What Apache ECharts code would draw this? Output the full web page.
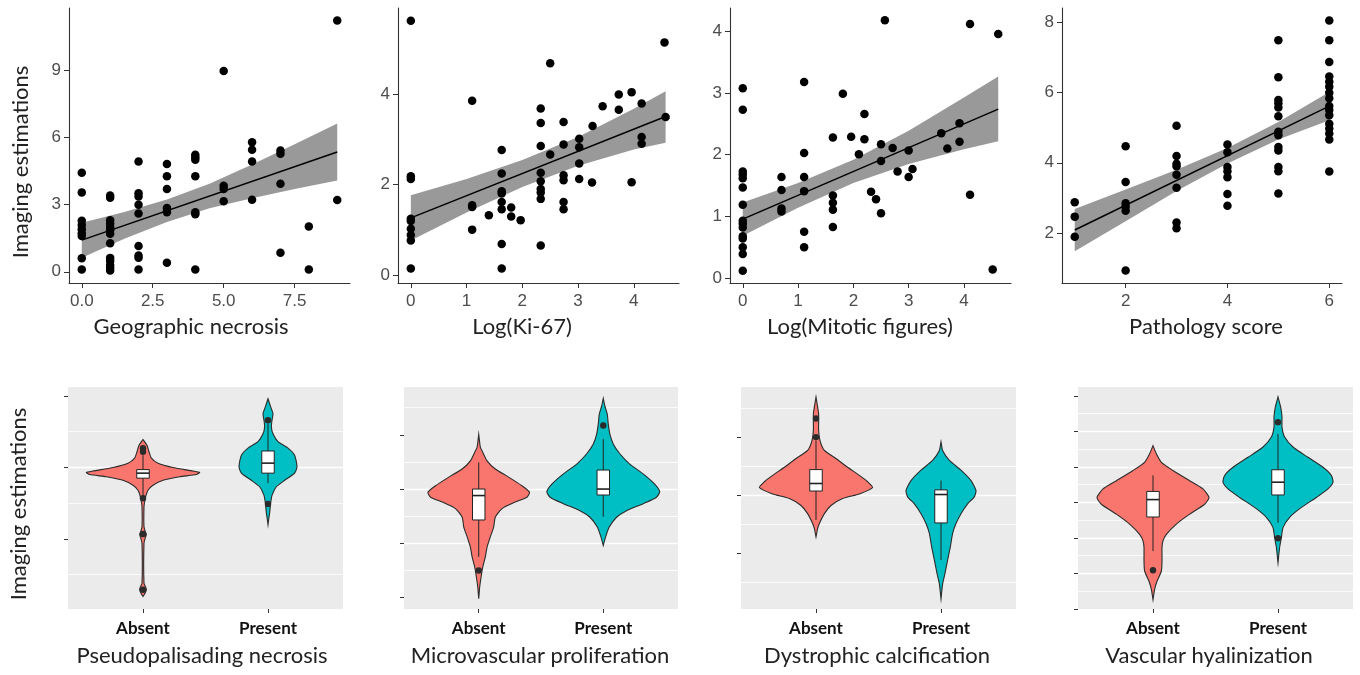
<!DOCTYPE html>
<html><head><meta charset="utf-8">
<script src="https://cdn.jsdelivr.net/npm/echarts@6/dist/echarts.min.js"></script>
<style>html,body{margin:0;padding:0;background:#fff}#c{width:1360px;height:675px}</style>
</head><body><div id="c"></div>
<script>
// ===================== DATA =====================
// Top row: scatter points [x, imaging estimation]
const necrosisPts = [[0,4.41],[0,3.54],[0,2.27],[0,2.09],[0,1.9],[0,1.72],[0,1.6],[0,0.6],[0,0.1],
 [1,3.4],[1,3.3],[1,2.3],[1,2.15],[1,2.0],[1,1.85],[1,1.7],[1,1.27],[1,0.62],[1,0.48],[1,0.3],[1,0.18],[1,0.06],
 [2,4.92],[2,3.5],[2,3.36],[2,2.99],[2,2.6],[2,1.15],[2,0.73],[2,0.63],[2,0.1],
 [3,4.81],[3,4.26],[3,3.69],[3,2.84],[3,2.65],[3,0.4],
 [4,5.22],[4,5.11],[4,5.0],[4,4.26],[4,2.65],[4,2.57],[4,0.1],
 [5,8.95],[5,3.84],[5,3.69],[5,3.14],
 [6,5.78],[6,5.44],[6,4.92],[6,3.21],
 [7,5.41],[7,5.26],[7,3.92],[7,0.85],
 [8,2.02],[8,0.1],
 [9,11.2],[9,3.2]];
const necrosisFitX = [0, 9], necrosisFitY = [1.41, 5.34];
const necrosisBandX = [0, 1.5, 3, 4.5, 6, 7.5, 9];
const necrosisBandHi = [2.19, 2.67, 3.22, 3.93, 4.78, 5.69, 6.61];
const necrosisBandLo = [0.63, 1.47, 2.22, 2.83, 3.28, 3.69, 4.07];
const necrosisXTicks = [0, 2.5, 5, 7.5], necrosisYTicks = [0, 3, 6, 9];

const ki67Pts = [[0,5.62],[0,2.18],[0,2.12],[0,1.24],[0,1.19],[0,1.02],[0,0.88],[0,0.76],[0,0.14],
 [1.1,3.85],[1.1,1.54],[1.1,1.5],[1.1,1.0],[1.4,1.32],
 [1.63,2.76],[1.63,2.24],[1.63,1.85],[1.63,1.8],[1.63,1.61],[1.63,1.45],[1.63,0.68],[1.63,0.14],
 [1.8,1.49],[1.8,1.29],[1.97,1.21],
 [2.33,3.68],[2.33,3.36],[2.33,2.85],[2.33,2.26],[2.33,2.07],[2.33,1.9],[2.33,1.82],[2.33,1.68],[2.33,0.65],
 [2.5,4.68],[2.5,2.66],
 [2.74,3.38],[2.74,2.88],[2.74,2.2],[2.74,2.09],[2.74,1.61],[2.74,1.45],
 [3.02,3.01],[3.02,2.82],[3.02,2.46],[3.02,2.12],
 [3.25,2.04],[3.26,3.29],[3.44,3.73],[3.73,3.99],[3.73,3.65],[3.96,4.04],[3.96,2.05],
 [4.14,3.79],[4.14,3.05],[4.14,2.9],[4.55,5.14],[4.57,3.49]];
const ki67FitX = [0, 4.57], ki67FitY = [1.26, 3.5];
const ki67BandX = [0, 1, 2, 3, 4, 4.57];
const ki67BandHi = [1.76, 2.12, 2.54, 3.05, 3.67, 4.06];
const ki67BandLo = [0.76, 1.38, 1.94, 2.41, 2.77, 2.92];
const ki67XTicks = [0, 1, 2, 3, 4], ki67YTicks = [0, 2, 4];

const mitoticPts = [[0,3.08],[0,2.73],[0,1.73],[0,1.68],[0,1.62],[0,1.47],[0,1.19],[0,0.93],[0,0.88],[0,0.82],[0,0.68],[0,0.64],[0,0.5],[0,0.39],[0,0.12],
 [0.7,1.64],[0.7,1.43],[0.7,1.13],[0.7,1.08],
 [1.11,3.18],[1.11,2.03],[1.11,1.64],[1.11,1.41],[1.11,0.75],[1.11,0.5],
 [1.63,2.28],[1.63,1.34],[1.63,1.22],[1.63,1.11],[1.63,0.83],
 [1.81,2.99],[1.96,2.29],[2.1,2.01],[2.2,2.66],[2.2,2.25],[2.32,1.4],[2.41,1.28],
 [2.5,2.17],[2.5,1.9],[2.5,1.05],[2.57,4.18],[2.71,2.11],[2.8,1.73],
 [3.0,2.07],[3.0,1.64],[3.07,1.77],[3.59,2.35],[3.7,2.1],[3.92,2.51],[3.92,2.21],
 [4.11,4.12],[4.11,1.35],[4.52,0.14],[4.62,3.96]];
const mitoticFitX = [0, 4.62], mitoticFitY = [0.955, 2.74];
const mitoticBandX = [0, 1, 2, 3, 4, 4.62];
const mitoticBandHi = [1.225, 1.54, 1.92, 2.39, 2.93, 3.27];
const mitoticBandLo = [0.685, 1.14, 1.54, 1.85, 2.09, 2.22];
const mitoticXTicks = [0, 1, 2, 3, 4], mitoticYTicks = [0, 1, 2, 3, 4];

const scorePts = [[1,2.88],[1,2.47],[1,1.9],
 [2,4.47],[2,3.45],[2,2.85],[2,2.75],[2,2.64],[2,0.94],
 [3,5.05],[3,4.19],[3,3.97],[3,3.9],[3,3.66],[3,3.29],[3,2.3],[3,2.14],
 [4,4.52],[4,4.3],[4,3.88],[4,3.76],[4,3.59],[4,3.11],[4,2.78],
 [5,7.48],[5,6.43],[5,5.78],[5,5.69],[5,5.57],[5,5.32],[5,4.88],[5,4.78],[5,4.45],[5,4.35],[5,3.88],[5,3.76],[5,3.13],
 [6,8.04],[6,7.48],[6,6.86],[6,6.45],[6,6.3],[6,6.16],[6,5.99],[6,5.83],[6,5.61],[6,5.5],[6,5.35],[6,5.11],[6,4.97],[6,4.83],[6,4.66],[6,3.75]];
const scoreFitX = [1, 6], scoreFitY = [2.09, 5.61];
const scoreBandX = [1, 2, 3, 4, 5, 6];
const scoreBandHi = [2.69, 3.24, 3.8, 4.42, 5.16, 6.01];
const scoreBandLo = [1.49, 2.34, 3.2, 3.98, 4.66, 5.21];
const scoreXTicks = [2, 4, 6], scoreYTicks = [2, 4, 6, 8];

// Bottom row: violins (y value, half width), box stats [whiskerLow, q1, median, q3, whiskerHigh], outliers
const violinCats = ['Absent', 'Present'];

const pseudoAbsentY = [2.39,2.31,2.22,2.13,2.06,2.0,1.95,1.93,1.9,1.87,1.82,1.75,1.68,1.59,1.52,1.45,1.17,1.1,1.065,1.02,0.94,0.38,0.33,0.29,0.24,0.195];
const pseudoAbsentW = [0,0.032,0.048,0.067,0.12,0.24,0.4,0.453,0.427,0.293,0.16,0.08,0.04,0.021,0.013,0.008,0.008,0.019,0.027,0.019,0.008,0.008,0.021,0.027,0.016,0];
const pseudoAbsentBox = [1.61, 1.85, 1.92, 1.97, 2.17];
const pseudoAbsentOut = [2.27, 2.22, 1.57, 1.07, 0.29];
const pseudoPresentY = [2.96,2.85,2.75,2.66,2.57,2.47,2.36,2.27,2.17,2.01,1.92,1.82,1.73,1.61,1.5,1.36,1.27,1.2];
const pseudoPresentW = [0,0.021,0.04,0.032,0.027,0.04,0.08,0.16,0.213,0.232,0.213,0.133,0.067,0.032,0.021,0.013,0.005,0];
const pseudoPresentBox = [1.78, 1.92, 2.06, 2.23, 2.61];
const pseudoPresentOut = [2.66, 1.49];
const pseudoYTicks = [1, 2, 3];

const microAbsentY = [4.01,3.77,3.68,3.52,3.37,3.22,3.06,2.94,2.85,2.76,2.64,2.48,2.3,2.12,1.93,1.75,1.56,1.38,1.2,0.98];
const microAbsentW = [0,0.013,0.032,0.067,0.133,0.24,0.347,0.408,0.387,0.293,0.187,0.133,0.12,0.093,0.067,0.053,0.032,0.019,0.008,0];
const microAbsentBox = [1.75, 2.43, 2.88, 3.0, 3.49];
const microAbsentOut = [1.5];
const microPresentY = [4.67,4.53,4.38,4.2,4.01,3.83,3.65,3.46,3.28,3.09,2.95,2.85,2.73,2.6,2.48,2.3,2.12,1.96];
const microPresentW = [0,0.013,0.032,0.04,0.053,0.08,0.133,0.213,0.32,0.413,0.453,0.427,0.32,0.187,0.107,0.048,0.019,0];
const microPresentBox = [2.49, 2.89, 3.0, 3.35, 3.92];
const microPresentOut = [4.17];
const microYTicks = [1, 2, 3, 4];

const calcAbsentY = [3.7,3.53,3.41,3.13,2.95,2.78,2.64,2.49,2.35,2.24,2.14,2.03,1.95,1.83,1.69,1.52,1.43,1.29];
const calcAbsentW = [0,0.013,0.021,0.021,0.032,0.067,0.16,0.253,0.347,0.413,0.453,0.347,0.213,0.12,0.067,0.027,0.013,0];
const calcAbsentBox = [1.58, 2.08, 2.21, 2.45, 2.95];
const calcAbsentOut = [3.33, 3.01];
const calcPresentY = [2.93,2.78,2.61,2.44,2.26,2.09,1.98,1.86,1.69,1.52,1.35,1.12,0.89,0.66,0.48,0.22];
const calcPresentW = [0,0.013,0.067,0.16,0.24,0.28,0.267,0.213,0.16,0.12,0.093,0.075,0.053,0.032,0.013,0];
const calcPresentBox = [0.89, 1.53, 2.02, 2.1, 2.26];
const calcPresentOut = [];
const calcYTicks = [1, 2, 3];

const vascAbsentY = [4.6,4.37,4.13,3.9,3.61,3.38,3.14,2.95,2.67,2.39,2.1,1.92,1.73,1.35,1.07,0.78,0.55,0.26];
const vascAbsentW = [0,0.027,0.067,0.16,0.293,0.4,0.448,0.413,0.293,0.187,0.107,0.08,0.072,0.072,0.067,0.032,0.013,0];
const vascAbsentBox = [1.63, 2.59, 3.08, 3.31, 3.76];
const vascAbsentOut = [1.09];
const vascPresentY = [5.97,5.69,5.41,5.12,4.84,4.56,4.27,3.99,3.76,3.57,3.38,3.14,2.86,2.58,2.29,2.01,1.73,1.3];
const vascPresentW = [0,0.021,0.032,0.032,0.053,0.12,0.24,0.36,0.427,0.44,0.4,0.307,0.187,0.093,0.04,0.027,0.013,0];
const vascPresentBox = [2.43, 3.21, 3.57, 3.92, 4.93];
const vascPresentOut = [5.26, 1.99];
const vascYTicks = [0, 1, 2, 3, 4, 5, 6];

// ===================== STYLE / LAYOUT =====================
const FONT_T = 'Lato, "Open Sans", sans-serif';
const FONT_N = '"Liberation Sans", Arial, sans-serif';
const GROUP_COLORS = ['#F8766D', '#00BFC4'];
const BOX_HALF = 0.05;

const scatterPanels = [
  {pts: necrosisPts, fx: necrosisFitX, fy: necrosisFitY, bx: necrosisBandX, hi: necrosisBandHi, lo: necrosisBandLo,
   xt: necrosisXTicks, yt: necrosisYTicks, xr: [-0.45, 9.45], yr: [-0.5, 11.76], left: 69, width: 281, fmt: v => v.toFixed(1)},
  {pts: ki67Pts, fx: ki67FitX, fy: ki67FitY, bx: ki67BandX, hi: ki67BandHi, lo: ki67BandLo,
   xt: ki67XTicks, yt: ki67YTicks, xr: [-0.23, 4.81], yr: [-0.18, 5.9], left: 398, width: 281},
  {pts: mitoticPts, fx: mitoticFitX, fy: mitoticFitY, bx: mitoticBandX, hi: mitoticBandHi, lo: mitoticBandLo,
   xt: mitoticXTicks, yt: mitoticYTicks, xr: [-0.231, 4.851], yr: [-0.08, 4.38], left: 730, width: 281},
  {pts: scorePts, fx: scoreFitX, fy: scoreFitY, bx: scoreBandX, hi: scoreBandHi, lo: scoreBandLo,
   xt: scoreXTicks, yt: scoreYTicks, xr: [0.75, 6.25], yr: [0.585, 8.395], left: 1062, width: 280}
];

const violinPanels = [
  {groups: [{y: pseudoAbsentY, w: pseudoAbsentW, box: pseudoAbsentBox, out: pseudoAbsentOut},
            {y: pseudoPresentY, w: pseudoPresentW, box: pseudoPresentBox, out: pseudoPresentOut}],
   yt: pseudoYTicks, yr: [0.02, 3.125], left: 68, width: 275},
  {groups: [{y: microAbsentY, w: microAbsentW, box: microAbsentBox, out: microAbsentOut},
            {y: microPresentY, w: microPresentW, box: microPresentBox, out: microPresentOut}],
   yt: microYTicks, yr: [0.79, 4.88], left: 404, width: 274},
  {groups: [{y: calcAbsentY, w: calcAbsentW, box: calcAbsentBox, out: calcAbsentOut},
            {y: calcPresentY, w: calcPresentW, box: calcPresentBox, out: calcPresentOut}],
   yt: calcYTicks, yr: [0.046, 3.874], left: 741, width: 275},
  {groups: [{y: vascAbsentY, w: vascAbsentW, box: vascAbsentBox, out: vascAbsentOut},
            {y: vascPresentY, w: vascPresentW, box: vascPresentBox, out: vascPresentOut}],
   yt: vascYTicks, yr: [0, 6.25], left: 1078, width: 275}
];

const grid = [], xAxis = [], yAxis = [], series = [];

scatterPanels.forEach((p, i) => {
  grid.push({left: p.left, top: 8, width: p.width, height: 275, containLabel: false, outerBoundsMode: 'none'});
  xAxis.push({type: 'value', gridIndex: i, min: p.xr[0], max: p.xr[1],
    axisLine: {show: true, onZero: false, lineStyle: {color: '#333', width: 1.1}},
    axisTick: {show: true, length: 5, customValues: p.xt, lineStyle: {color: '#333'}},
    axisLabel: {customValues: p.xt, color: '#4d4d4d', fontSize: 17, fontFamily: FONT_N, margin: 10,
      formatter: p.fmt || (v => String(v))},
    splitLine: {show: false}});
  yAxis.push({type: 'value', gridIndex: i, min: p.yr[0], max: p.yr[1],
    axisLine: {show: true, onZero: false, lineStyle: {color: '#333', width: 1.1}},
    axisTick: {show: true, length: 5, customValues: p.yt, lineStyle: {color: '#333'}},
    axisLabel: {customValues: p.yt, color: '#4d4d4d', fontSize: 17, fontFamily: FONT_N, margin: 8},
    splitLine: {show: false}});
  const bx = p.bx, hi = p.hi, lo = p.lo;
  series.push({type: 'custom', xAxisIndex: i, yAxisIndex: i, z: 1, silent: true,
    data: [[bx[0], lo[0]]],
    renderItem: (params, api) => {
      const pts = [];
      for (let k = 0; k < bx.length; k++) pts.push(api.coord([bx[k], hi[k]]));
      for (let k = bx.length - 1; k >= 0; k--) pts.push(api.coord([bx[k], lo[k]]));
      return {type: 'polygon', shape: {points: pts}, style: {fill: '#999999'}};
    }});
  series.push({type: 'line', xAxisIndex: i, yAxisIndex: i, z: 2, showSymbol: false, silent: true,
    data: p.fx.map((x, k) => [x, p.fy[k]]), lineStyle: {color: '#000', width: 1.5}});
  series.push({type: 'scatter', xAxisIndex: i, yAxisIndex: i, z: 3, symbolSize: 8.5, silent: true,
    data: p.pts, itemStyle: {color: '#000', opacity: 1}});
});

violinPanels.forEach((p, j) => {
  const i = j + 4;
  grid.push({left: p.left, top: 387, width: p.width, height: 222, show: true, backgroundColor: '#EBEBEB',
    borderWidth: 0, containLabel: false, outerBoundsMode: 'none'});
  xAxis.push({type: 'value', gridIndex: i, min: 0.4, max: 2.6, minInterval: 1, maxInterval: 1,
    axisLine: {show: false, onZero: false},
    axisTick: {show: true, length: 4, customValues: [1, 2], lineStyle: {color: '#333'}},
    axisLabel: {customValues: [1, 2], color: '#111', fontSize: 17, fontWeight: 'bold', fontFamily: FONT_T, margin: 11,
      formatter: v => violinCats[Math.round(v) - 1] || ''},
    splitLine: {show: true, showMinLine: false, showMaxLine: false, lineStyle: {color: '#fff', width: 1.3}}});
  yAxis.push({type: 'value', gridIndex: i, min: p.yr[0], max: p.yr[1], minInterval: 1, maxInterval: 1,
    axisLine: {show: false, onZero: false},
    axisTick: {show: true, length: 4, customValues: p.yt, lineStyle: {color: '#333'}},
    axisLabel: {show: false},
    splitLine: {show: true, showMinLine: false, showMaxLine: false, lineStyle: {color: '#fff', width: 1.3}},
    minorTick: {show: false, splitNumber: 2},
    minorSplitLine: {show: true, lineStyle: {color: '#fff', width: 0.8}}});
  const groups = p.groups;
  series.push({type: 'custom', xAxisIndex: i, yAxisIndex: i, z: 2, silent: true,
    data: groups.map((g, k) => [k + 1, g.box[2]]),
    renderItem: (params, api) => {
      const g = groups[params.dataIndex];
      const c = api.value(0);
      const pts = [];
      for (let k = 0; k < g.y.length; k++) pts.push(api.coord([c + g.w[k], g.y[k]]));
      for (let k = g.y.length - 1; k >= 0; k--) pts.push(api.coord([c - g.w[k], g.y[k]]));
      const ch = [{type: 'polygon', shape: {points: pts, smooth: 0.2},
        style: {fill: GROUP_COLORS[params.dataIndex], stroke: '#2b2b2b', lineWidth: 1.1}}];
      const b = g.box;
      const wTop = api.coord([c, b[4]]), wBot = api.coord([c, b[0]]);
      const pQ3 = api.coord([c - BOX_HALF, b[3]]), pQ1 = api.coord([c + BOX_HALF, b[1]]);
      const mL = api.coord([c - BOX_HALF, b[2]]), mR = api.coord([c + BOX_HALF, b[2]]);
      ch.push({type: 'line', shape: {x1: wTop[0], y1: wTop[1], x2: wTop[0], y2: pQ3[1]}, style: {stroke: '#222', lineWidth: 1}});
      ch.push({type: 'line', shape: {x1: wBot[0], y1: pQ1[1], x2: wBot[0], y2: wBot[1]}, style: {stroke: '#222', lineWidth: 1}});
      ch.push({type: 'rect', shape: {x: pQ3[0], y: pQ3[1], width: pQ1[0] - pQ3[0], height: pQ1[1] - pQ3[1]},
        style: {fill: '#fff', stroke: '#222', lineWidth: 1}});
      ch.push({type: 'line', shape: {x1: mL[0], y1: mL[1], x2: mR[0], y2: mR[1]}, style: {stroke: '#222', lineWidth: 1.6}});
      g.out.forEach(o => {
        const q = api.coord([c, o]);
        ch.push({type: 'circle', shape: {cx: q[0], cy: q[1], r: 3.2}, style: {fill: '#2b2b2b'}});
      });
      return {type: 'group', children: ch};
    }});
});

const titleStyle = {fontSize: 22, fontFamily: FONT_T, fill: '#222', align: 'center', verticalAlign: 'middle'};
const axisTitles = [
  ['Geographic necrosis', 191, 327], ['Log(Ki-67)', 522, 327], ['Log(Mitotic figures)', 860, 327], ['Pathology score', 1206, 327],
  ['Pseudopalisading necrosis', 202, 656], ['Microvascular proliferation', 540, 656], ['Dystrophic calcification', 877, 656], ['Vascular hyalinization', 1209, 656]
];
const graphic = axisTitles.map(t => ({type: 'text', x: t[1], y: t[2], silent: true, style: Object.assign({text: t[0]}, titleStyle)}));
graphic.push({type: 'text', x: 21, y: 162, rotation: Math.PI / 2, silent: true, style: Object.assign({text: 'Imaging estimations'}, titleStyle)});
graphic.push({type: 'text', x: 19, y: 504, rotation: Math.PI / 2, silent: true, style: Object.assign({text: 'Imaging estimations'}, titleStyle)});

const chart = echarts.init(document.getElementById('c'), null, {renderer: 'canvas'});
chart.setOption({animation: false, backgroundColor: '#fff', grid, xAxis, yAxis, series, graphic});
</script></body></html>
